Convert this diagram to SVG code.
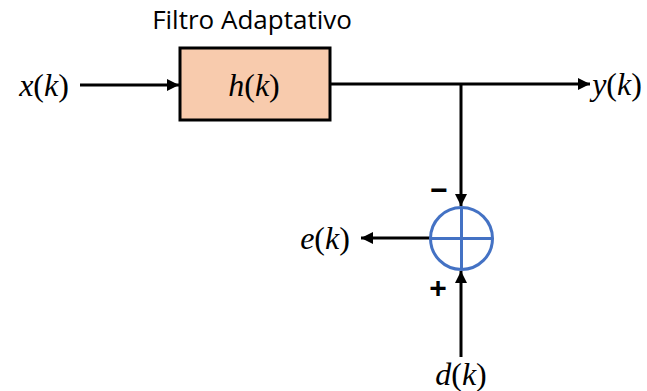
<svg xmlns="http://www.w3.org/2000/svg" width="647" height="391" viewBox="0 0 647 391">
<style>
.m{font-family:"Liberation Serif","DejaVu Serif",serif;font-size:32px;fill:#000}
.i{font-style:italic}
.c{stroke:#000;stroke-width:3;fill:none}
.t{font-family:"Open Sans","Liberation Sans",sans-serif;font-size:26px;fill:#000}
.s{font-family:"Liberation Sans",sans-serif;font-weight:bold;font-size:30px;fill:#000}
</style>
<defs>
<marker id="a" viewBox="0 0 10 10" refX="10" refY="5" markerWidth="4" markerHeight="4" orient="auto" markerUnits="strokeWidth">
<path d="M0,0 L10,5 L0,10 z" fill="#000"/>
</marker>
</defs>
<rect width="647" height="391" fill="#fff"/>
<g id="connectors">
<line class="c" x1="80" y1="85" x2="179" y2="85" marker-end="url(#a)"/>
<line class="c" x1="331" y1="84" x2="590" y2="84" marker-end="url(#a)"/>
<line class="c" x1="461" y1="84" x2="461" y2="206" marker-end="url(#a)"/>
<line class="c" x1="430" y1="238" x2="361" y2="238" marker-end="url(#a)"/>
<line class="c" x1="461" y1="357" x2="461" y2="271" marker-end="url(#a)"/>
</g>
<g id="filter">
<text class="t" x="252" y="29" text-anchor="middle">Filtro Adaptativo</text>
<rect x="180" y="48" width="150" height="72" fill="#F8CBAD" stroke="#000" stroke-width="3"/>
<text class="m" x="254" y="96" text-anchor="middle"><tspan class="i">h</tspan>(<tspan class="i">k</tspan>)</text>
</g>
<g id="input"><text class="m" x="44" y="96" text-anchor="middle"><tspan class="i">x</tspan>(<tspan class="i">k</tspan>)</text></g>
<g id="output"><text class="m" x="617" y="95" text-anchor="middle"><tspan class="i">y</tspan>(<tspan class="i">k</tspan>)</text></g>
<g id="sum">
<circle cx="461.5" cy="238.5" r="31" fill="none" stroke="#4472C4" stroke-width="3"/>
<line x1="430.5" y1="238.5" x2="492.5" y2="238.5" stroke="#4472C4" stroke-width="3"/>
<line x1="461.5" y1="207.5" x2="461.5" y2="269.5" stroke="#4472C4" stroke-width="3"/>
<text class="s" x="439" y="200" text-anchor="middle">−</text>
<text class="s" x="438" y="298" text-anchor="middle">+</text>
</g>
<g id="error"><text class="m" x="325" y="249" text-anchor="middle"><tspan class="i">e</tspan>(<tspan class="i">k</tspan>)</text></g>
<g id="desired"><text class="m" x="461" y="385" text-anchor="middle"><tspan class="i">d</tspan>(<tspan class="i">k</tspan>)</text></g>
</svg>
